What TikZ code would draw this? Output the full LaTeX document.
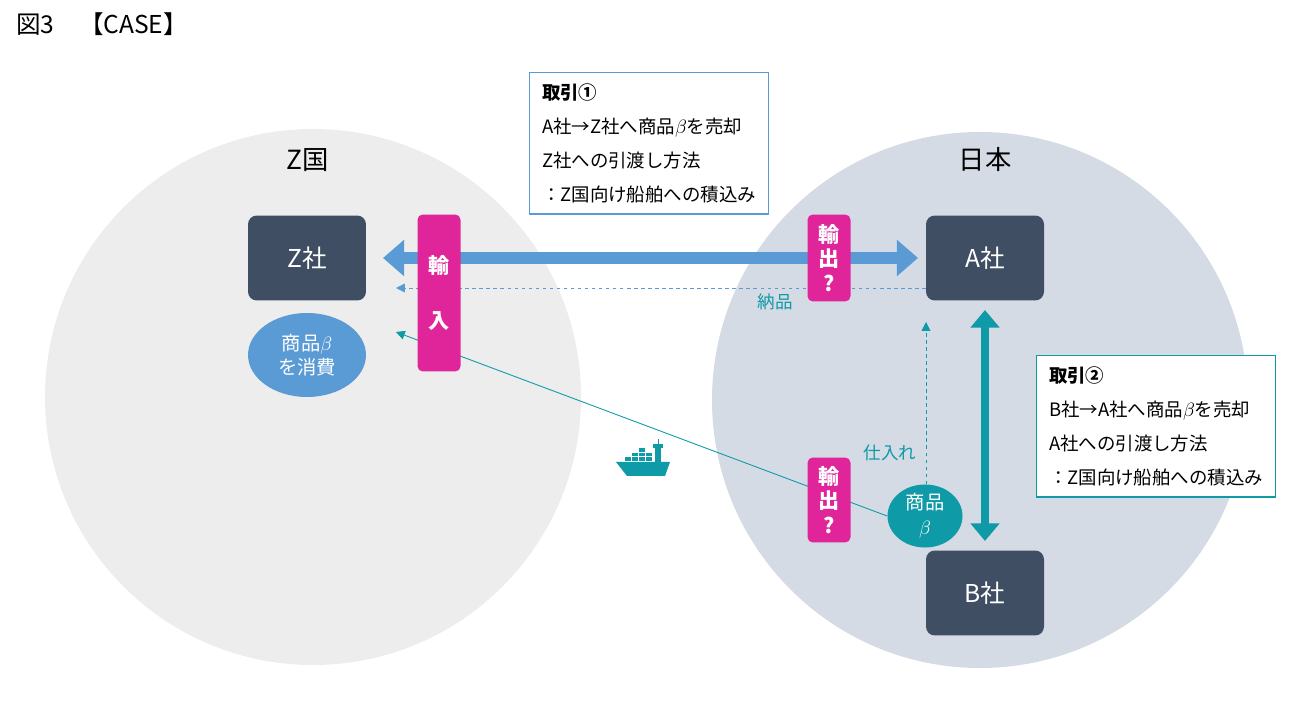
\documentclass[tikz,border=0pt]{standalone}
\usepackage{fontspec}
\setmainfont{Noto Sans CJK JP}
\usetikzlibrary{arrows.meta,shapes.geometric}
\definecolor{dark}{HTML}{3F4E63}
\definecolor{mag}{HTML}{E0249A}
\definecolor{blu}{HTML}{5B9BD5}
\definecolor{tea}{HTML}{0E9AA7}
\definecolor{zbg}{HTML}{EDEDED}
\definecolor{jbg}{HTML}{D5DBE5}
\begin{document}
\begin{tikzpicture}[x=0.02cm,y=-0.02cm,
 co/.style={fill=dark,rounded corners=5pt,minimum width=2.36cm,minimum height=1.7cm,text=white,font=\fontsize{14}{16}\selectfont},
 mg/.style={fill=mag,rounded corners=3pt,minimum width=0.86cm,text=white,font=\bfseries\fontsize{12}{15}\selectfont,align=center},
 lab/.style={text=tea,font=\fontsize{10}{12}\selectfont},
 tb/.style={draw,line width=0.8pt,fill=white,align=left,anchor=north west,inner xsep=7pt,inner ysep=6pt,font=\fontsize{10.5}{19.5}\selectfont}]
\useasboundingbox (0,0) rectangle (1298,712);
\fill[zbg] (313,397) circle[radius=268];
\fill[jbg] (980,400) circle[radius=268];
\node[anchor=west,font=\fontsize{14}{16}\selectfont] (t) at (10,24) {図3\quad【CASE】};
\node[font=\fontsize{15}{17}\selectfont] (zk) at (308,160) {Z国};
\node[font=\fontsize{15}{17}\selectfont] (jp) at (985,160) {日本};
\node[co] (z) at (307,258) {Z社};
\node[co] (a) at (985,258) {A社};
\node[co] (b) at (985,593) {B社};
\node[ellipse,fill=blu,minimum width=2.36cm,minimum height=1.68cm,text=white,font=\fontsize{11}{14}\selectfont,align=center,inner sep=0pt] (g) at (307,355) {商品$\beta$\\を消費};
\node[ellipse,fill=tea,minimum width=1.5cm,minimum height=1.26cm,text=white,font=\fontsize{11}{14}\selectfont,align=center,inner sep=0pt] (g2) at (925,516) {商品\\$\beta$};
\coordinate (d1) at (396,332);
\draw[tea,line width=0.5pt,-{Triangle[length=5pt,width=5pt]}] (g2.west) -- (d1);
\draw[blu,line width=7pt,{Triangle[length=12pt,width=20pt]}-{Triangle[length=12pt,width=20pt]}] (383,258) -- (918,258);
\coordinate (n1) at (396,288);
\draw[blu,dash pattern=on 2pt off 2pt,line width=0.5pt,-{Triangle[length=5pt,width=5pt]}] (a.west|-n1) -- (n1);
\coordinate (s1) at (926,322);
\draw[tea,dash pattern=on 2pt off 2pt,line width=0.5pt,-{Triangle[length=5pt,width=5pt]}] (g2.north-|s1) -- (s1);
\draw[tea,line width=5pt,{Triangle[length=10pt,width=16pt]}-{Triangle[length=10pt,width=16pt]}] (985,310) -- (985,541);
\node[mg,minimum height=3.14cm] (im) at (439,293) {輸\\[16pt]入};
\node[mg,minimum height=1.74cm,font=\bfseries\fontsize{12}{14}\selectfont] (ex1) at (829,258) {輸\\出\\?};
\node[mg,minimum height=1.7cm,font=\bfseries\fontsize{12}{14}\selectfont] (ex2) at (829,500) {輸\\出\\?};
\node[lab] (nh) at (775,302) {納品};
\node[lab] (sr) at (890,453) {仕入れ};
\node[tb,draw=blu] (b1) at (529,72) {\textbf{取引①}\\A社→Z社へ商品$\beta$を売却\\Z社への引渡し方法\\：Z国向け船舶への積込み};
\node[tb,draw=tea] (b2) at (1036,355) {\textbf{取引②}\\B社→A社へ商品$\beta$を売却\\A社への引渡し方法\\：Z国向け船舶への積込み};
% ship
\begin{scope}[shift={(643,458)}]
\fill[tea] (-27,4) -- (27,4) -- (22,18) -- (-16,18) -- cycle;
\foreach \i/\h in {0/1,1/2,2/3,3/2}{\foreach \j in {1,...,\h}{\fill[tea] (-18+\i*7,4-\j*4.5) rectangle ++(6,3.5);}}
\fill[tea] (12,4) rectangle (18,-10);
\fill[tea] (10,-10) rectangle (20,-14);
\fill[tea] (14.5,-14) rectangle (15.5,-19);
\end{scope}
\end{tikzpicture}
\end{document}
